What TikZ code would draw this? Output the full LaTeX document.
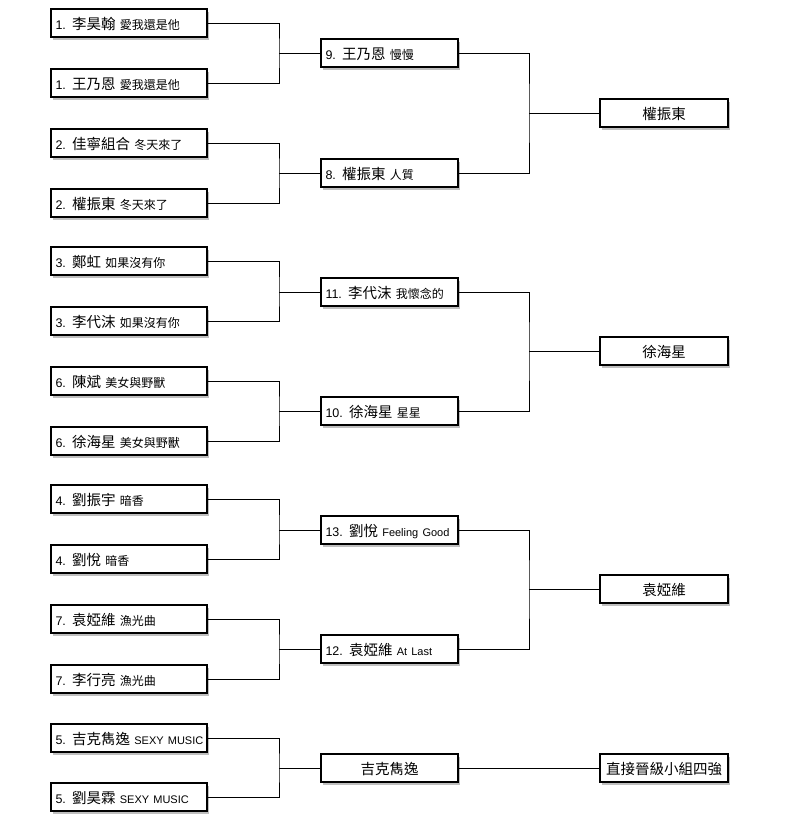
\documentclass[tikz,border=0pt]{standalone}
\usepackage{fontspec}
\setmainfont{Liberation Sans}
\newfontfamily\cjk{Noto Sans CJK TC}
\usetikzlibrary{shadows}
\newcommand\nmx[1]{{\cjk\fontsize{14.5}{15}\selectfont #1}}
\newcommand\sgx[1]{{\cjk\fontsize{12}{12}\selectfont #1}}
\newcommand\ltx[1]{{\fontsize{11}{12}\selectfont #1}}
\begin{document}
\begin{tikzpicture}[x=1pt,y=-1pt,
  bx/.style={draw=black, line width=2.4pt, fill=white, minimum height=28pt,
    inner ysep=0pt, inner xsep=4.5pt, text height=15pt, text depth=3pt,
    font=\fontsize{12.5}{12}\selectfont,
    drop shadow={shadow xshift=2pt, shadow yshift=-3pt, fill=black, opacity=0.25}},
  lbox/.style={bx, text width=147pt, align=left},
  mbox/.style={bx, text width=128pt, align=left},
  mcbox/.style={bx, text width=128pt, align=center},
  rbox/.style={bx, text width=119pt, align=center},
  conn/.style={draw=black, line width=0.9pt}]
\useasboundingbox (0,0) rectangle (797,815);
% left column
\node[lbox] (l1) at (129,23) {1. \nmx{李昊翰} \sgx{愛我還是他}};
\node[lbox] (l2) at (129,83) {1. \nmx{王乃恩} \sgx{愛我還是他}};
\node[lbox] (l3) at (129,143) {2. \nmx{佳寧組合} \sgx{冬天來了}};
\node[lbox] (l4) at (129,203) {2. \nmx{權振東} \sgx{冬天來了}};
\node[lbox] (l5) at (129,261) {3. \nmx{鄭虹} \sgx{如果沒有你}};
\node[lbox] (l6) at (129,321) {3. \nmx{李代沫} \sgx{如果沒有你}};
\node[lbox] (l7) at (129,381) {6. \nmx{陳斌} \sgx{美女與野獸}};
\node[lbox] (l8) at (129,441) {6. \nmx{徐海星} \sgx{美女與野獸}};
\node[lbox] (l9) at (129,499) {4. \nmx{劉振宇} \sgx{暗香}};
\node[lbox] (l10) at (129,559) {4. \nmx{劉悅} \sgx{暗香}};
\node[lbox] (l11) at (129,619) {7. \nmx{袁婭維} \sgx{漁光曲}};
\node[lbox] (l12) at (129,679) {7. \nmx{李行亮} \sgx{漁光曲}};
\node[lbox] (l13) at (129,738) {\mbox{5. \nmx{吉克雋逸} \ltx{SEXY MUSIC}}};
\node[lbox] (l14) at (129,797) {\mbox{5. \nmx{劉昊霖} \ltx{SEXY MUSIC}}};
% middle column
\node[mbox] (m1) at (389.5,53) {9. \nmx{王乃恩} \sgx{慢慢}};
\node[mbox] (m2) at (389.5,173) {8. \nmx{權振東} \sgx{人質}};
\node[mbox] (m3) at (389.5,292) {11. \nmx{李代沫} \sgx{我懷念的}};
\node[mbox] (m4) at (389.5,411) {10. \nmx{徐海星} \sgx{星星}};
\node[mbox] (m5) at (389.5,530) {\mbox{13. \nmx{劉悅} \ltx{Feeling Good}}};
\node[mbox] (m6) at (389.5,649) {12. \nmx{袁婭維} \ltx{At Last}};
\node[mcbox] (m7) at (389.5,768) {\nmx{吉克雋逸}};
% right column
\node[rbox] (r1) at (664,113) {\nmx{權振東}};
\node[rbox] (r2) at (664,351) {\nmx{徐海星}};
\node[rbox] (r3) at (664,589) {\nmx{袁婭維}};
\node[rbox] (r4) at (664,768) {\nmx{直接晉級小組四強}};
% junctions
\coordinate (j1) at (279,53);
\coordinate (j2) at (279,173);
\coordinate (j3) at (279,292);
\coordinate (j4) at (279,411);
\coordinate (j5) at (279,530);
\coordinate (j6) at (279,649);
\coordinate (j7) at (279,768);
\coordinate (k1) at (529,113);
\coordinate (k2) at (529,351);
\coordinate (k3) at (529,589);
\draw[conn] (l1.east) -| (j1) |- (l2.east);
\draw[conn] (j1) -- (m1.west);
\draw[conn] (l3.east) -| (j2) |- (l4.east);
\draw[conn] (j2) -- (m2.west);
\draw[conn] (l5.east) -| (j3) |- (l6.east);
\draw[conn] (j3) -- (m3.west);
\draw[conn] (l7.east) -| (j4) |- (l8.east);
\draw[conn] (j4) -- (m4.west);
\draw[conn] (l9.east) -| (j5) |- (l10.east);
\draw[conn] (j5) -- (m5.west);
\draw[conn] (l11.east) -| (j6) |- (l12.east);
\draw[conn] (j6) -- (m6.west);
\draw[conn] (l13.east) -| (j7) |- (l14.east);
\draw[conn] (j7) -- (m7.west);
\draw[conn] (m1.east) -| (k1) |- (m2.east);
\draw[conn] (k1) -- (r1.west);
\draw[conn] (m3.east) -| (k2) |- (m4.east);
\draw[conn] (k2) -- (r2.west);
\draw[conn] (m5.east) -| (k3) |- (m6.east);
\draw[conn] (k3) -- (r3.west);
\draw[conn] (m7.east) -- (r4.west);
\end{tikzpicture}
\end{document}
